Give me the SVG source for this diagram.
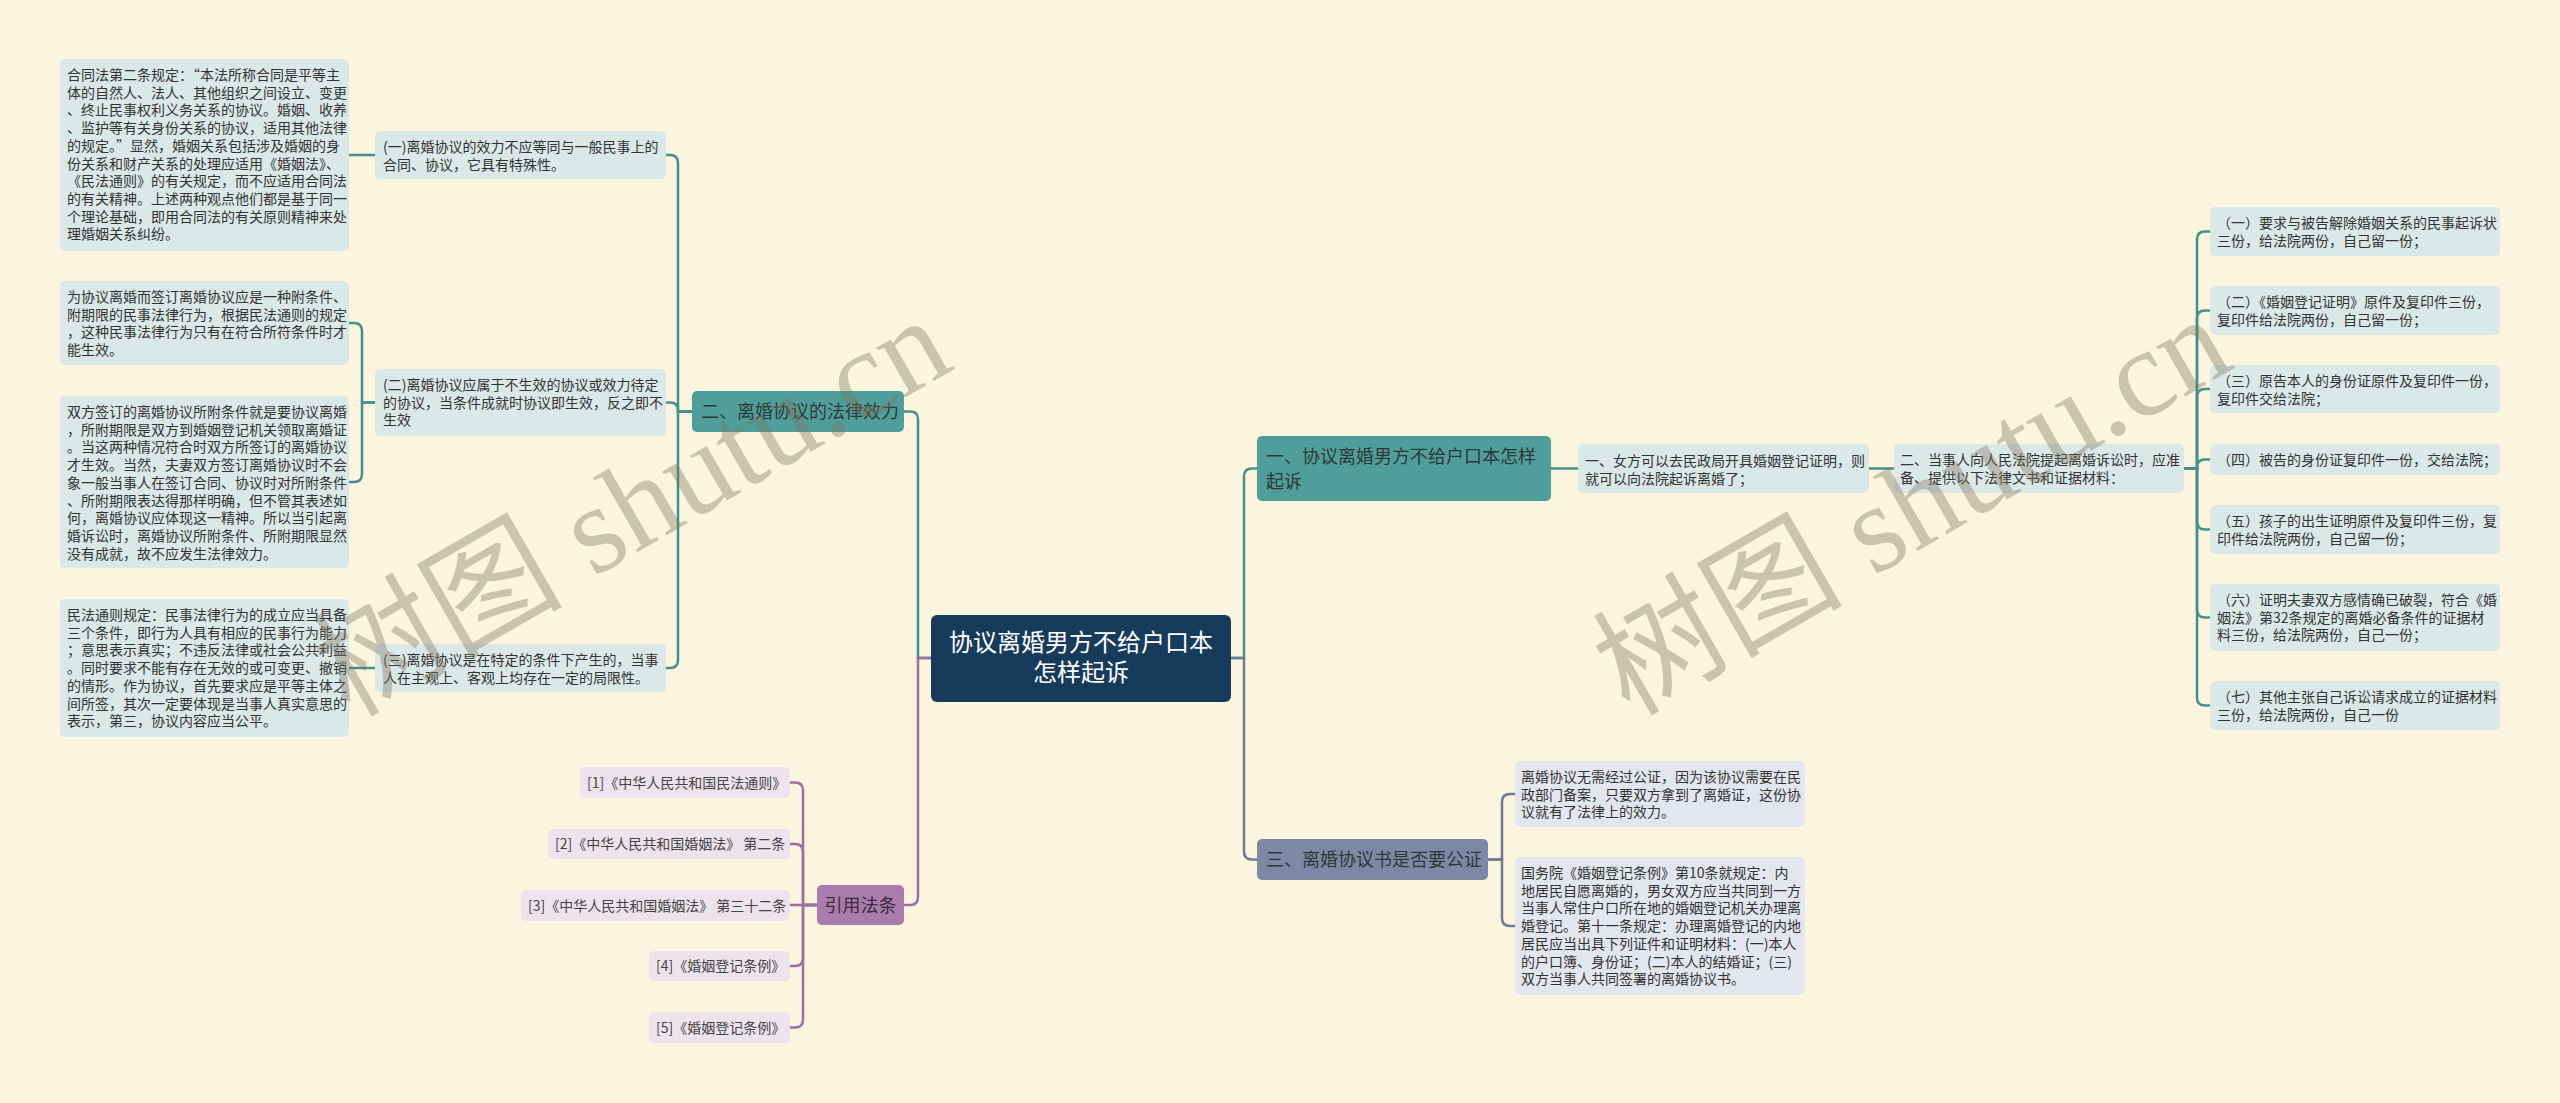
<svg xmlns="http://www.w3.org/2000/svg" width="2560" height="1103" viewBox="0 0 2560 1103">
<style>
  .t { font-family: "Noto Sans CJK SC", "Noto Sans", sans-serif; font-size: 14px; fill: #333; }
  .big { font-family: "Noto Sans CJK SC", "Noto Sans", sans-serif; font-size: 18px; fill: #2f3838; }
  .ctr { font-family: "Noto Sans CJK SC", "Noto Sans", sans-serif; font-size: 24px; fill: #ffffff; }
  .leafT { fill: #dbe8e8; }
  .leafP { fill: #ece3ec; }
  .leafS { fill: #e3e6ee; }
  .nodeT { fill: #509e9b; }
  .nodeP { fill: #a97cad; }
  .nodeS { fill: #7b89a6; }
  .center { fill: #173b5b; }
  .e { fill: none; stroke-width: 2.5; stroke-linecap: round; }
  .eT { stroke: #46908c; }
  .eP { stroke: #9c70a1; }
  .eS { stroke: #6f7b95; }
  .wm { font-family: "Liberation Serif", "Noto Sans CJK SC", serif; font-size: 125px; fill: #7d7560; opacity: 0.38; }
</style>
<rect x="0" y="0" width="2560" height="1103" fill="#fbf5e0"/>

<g id="connectors">
  <!-- center to main branches -->
  <path class="e eT" d="M931,658 H918 V419.5 Q918,411.5 910,411.5 H904"/>
  <path class="e eP" d="M931,658 H918 V897 Q918,905 910,905 H904"/>
  <path class="e eT" d="M1231,658 H1244 V476.5 Q1244,468.5 1252,468.5 H1257"/>
  <path class="e eS" d="M1231,658 H1244 V851.5 Q1244,859.5 1252,859.5 H1257"/>
  <!-- node 二 to children -->
  <path class="e eT" d="M692,411.5 H678 V163 Q678,155 670,155 H666"/>
  <path class="e eT" d="M692,411.5 H678 V410.5 Q678,402.5 670,402.5 H666"/>
  <path class="e eT" d="M692,411.5 H678 V660 Q678,668 670,668 H666"/>
  <!-- (一)(二)(三) to leaf -->
  <path class="e eT" d="M375,155 H349"/>
  <path class="e eT" d="M375,402.5 H362 V331 Q362,323 354,323 H349"/>
  <path class="e eT" d="M375,402.5 H362 V474 Q362,482 354,482 H349"/>
  <path class="e eT" d="M375,668 H349"/>
  <!-- citations -->
  <path class="e eP" d="M817,905 H803 V790.5 Q803,782.5 795,782.5 H790"/>
  <path class="e eP" d="M817,905 H803 V852 Q803,844 795,844 H790"/>
  <path class="e eP" d="M817,905 H790"/>
  <path class="e eP" d="M817,905 H803 V958 Q803,966 795,966 H790"/>
  <path class="e eP" d="M817,905 H803 V1019.5 Q803,1027.5 795,1027.5 H790"/>
  <!-- branch 一 -->
  <path class="e eT" d="M1551,468.5 H1578"/>
  <path class="e eT" d="M1869,468.5 H1894"/>
  <path class="e eT" d="M2184,468.5 H2197 V239.5 Q2197,231.5 2205,231.5 H2210"/>
  <path class="e eT" d="M2184,468.5 H2197 V318.5 Q2197,310.5 2205,310.5 H2210"/>
  <path class="e eT" d="M2184,468.5 H2197 V397 Q2197,389 2205,389 H2210"/>
  <path class="e eT" d="M2184,468.5 H2197 V467.5 Q2197,459.5 2205,459.5 H2210"/>
  <path class="e eT" d="M2184,468.5 H2197 V521.5 Q2197,529.5 2205,529.5 H2210"/>
  <path class="e eT" d="M2184,468.5 H2197 V609.5 Q2197,617.5 2205,617.5 H2210"/>
  <path class="e eT" d="M2184,468.5 H2197 V697.5 Q2197,705.5 2205,705.5 H2210"/>
  <!-- branch 三 -->
  <path class="e eS" d="M1488,859.5 H1502 V802 Q1502,794 1510,794 H1515"/>
  <path class="e eS" d="M1488,859.5 H1502 V918 Q1502,926 1510,926 H1515"/>
</g>

<g id="center">
  <rect class="center" x="931" y="615" width="300" height="87" rx="6"/>
  <text class="ctr" text-anchor="middle"><tspan x="1081" y="651">协议离婚男方不给户口本</tspan><tspan x="1081" y="681">怎样起诉</tspan></text>
</g>

<g id="node-er">
  <rect class="nodeT" x="692" y="391" width="212" height="41" rx="5"/>
  <text class="big" x="701" y="418">二、离婚协议的法律效力</text>
</g>

<g id="m1">
  <rect class="leafT" x="375" y="131" width="291" height="48" rx="5"/>
  <text class="t"><tspan x="383" y="152">(一)离婚协议的效力不应等同与一般民事上的</tspan><tspan x="383" dy="17.7">合同、协议，它具有特殊性。</tspan></text>
</g>
<g id="m2">
  <rect class="leafT" x="375" y="369" width="291" height="67" rx="5"/>
  <text class="t"><tspan x="383" y="390">(二)离婚协议应属于不生效的协议或效力待定</tspan><tspan x="383" dy="17.7">的协议，当条件成就时协议即生效，反之即不</tspan><tspan x="383" dy="17.7">生效</tspan></text>
</g>
<g id="m3">
  <rect class="leafT" x="375" y="644" width="291" height="48" rx="5"/>
  <text class="t"><tspan x="383" y="665">(三)离婚协议是在特定的条件下产生的，当事</tspan><tspan x="383" dy="17.7">人在主观上、客观上均存在一定的局限性。</tspan></text>
</g>

<g id="l1">
  <rect class="leafT" x="60" y="59" width="289" height="192" rx="5"/>
  <text class="t"><tspan x="67" y="80">合同法第二条规定：“本法所称合同是平等主</tspan><tspan x="67" dy="17.7">体的自然人、法人、其他组织之间设立、变更</tspan><tspan x="67" dy="17.7">、终止民事权利义务关系的协议。婚姻、收养</tspan><tspan x="67" dy="17.7">、监护等有关身份关系的协议，适用其他法律</tspan><tspan x="67" dy="17.7">的规定。”显然，婚姻关系包括涉及婚姻的身</tspan><tspan x="67" dy="17.7">份关系和财产关系的处理应适用《婚姻法》、</tspan><tspan x="67" dy="17.7">《民法通则》的有关规定，而不应适用合同法</tspan><tspan x="67" dy="17.7">的有关精神。上述两种观点他们都是基于同一</tspan><tspan x="67" dy="17.7">个理论基础，即用合同法的有关原则精神来处</tspan><tspan x="67" dy="17.7">理婚姻关系纠纷。</tspan></text>
</g>
<g id="l2">
  <rect class="leafT" x="60" y="281" width="289" height="84" rx="5"/>
  <text class="t"><tspan x="67" y="302">为协议离婚而签订离婚协议应是一种附条件、</tspan><tspan x="67" dy="17.7">附期限的民事法律行为，根据民法通则的规定</tspan><tspan x="67" dy="17.7">，这种民事法律行为只有在符合所符条件时才</tspan><tspan x="67" dy="17.7">能生效。</tspan></text>
</g>
<g id="l3">
  <rect class="leafT" x="60" y="396" width="289" height="172" rx="5"/>
  <text class="t"><tspan x="67" y="417">双方签订的离婚协议所附条件就是要协议离婚</tspan><tspan x="67" dy="17.7">，所附期限是双方到婚姻登记机关领取离婚证</tspan><tspan x="67" dy="17.7">。当这两种情况符合时双方所签订的离婚协议</tspan><tspan x="67" dy="17.7">才生效。当然，夫妻双方签订离婚协议时不会</tspan><tspan x="67" dy="17.7">象一般当事人在签订合同、协议时对所附条件</tspan><tspan x="67" dy="17.7">、所附期限表达得那样明确，但不管其表述如</tspan><tspan x="67" dy="17.7">何，离婚协议应体现这一精神。所以当引起离</tspan><tspan x="67" dy="17.7">婚诉讼时，离婚协议所附条件、所附期限显然</tspan><tspan x="67" dy="17.7">没有成就，故不应发生法律效力。</tspan></text>
</g>
<g id="l4">
  <rect class="leafT" x="60" y="599" width="289" height="138" rx="5"/>
  <text class="t"><tspan x="67" y="620">民法通则规定：民事法律行为的成立应当具备</tspan><tspan x="67" dy="17.7">三个条件，即行为人具有相应的民事行为能力</tspan><tspan x="67" dy="17.7">；意思表示真实；不违反法律或社会公共利益</tspan><tspan x="67" dy="17.7">。同时要求不能有存在无效的或可变更、撤销</tspan><tspan x="67" dy="17.7">的情形。作为协议，首先要求应是平等主体之</tspan><tspan x="67" dy="17.7">间所签，其次一定要体现是当事人真实意思的</tspan><tspan x="67" dy="17.7">表示，第三，协议内容应当公平。</tspan></text>
</g>

<g id="cite">
  <rect class="nodeP" x="817" y="885" width="87" height="40" rx="5"/>
  <text class="big" x="860.5" y="911.5" text-anchor="middle" style="fill:#3a2d3c">引用法条</text>
</g>
<g id="c1">
  <rect class="leafP" x="580" y="767" width="210" height="31" rx="5"/>
  <text class="t" x="587" y="787.5" style="fill:#444">[1]《中华人民共和国民法通则》</text>
</g>
<g id="c2">
  <rect class="leafP" x="548" y="829" width="242" height="30" rx="5"/>
  <text class="t" x="555" y="849" style="fill:#444">[2]《中华人民共和国婚姻法》 第二条</text>
</g>
<g id="c3">
  <rect class="leafP" x="521" y="890" width="269" height="31" rx="5"/>
  <text class="t" x="528" y="910.5" style="fill:#444">[3]《中华人民共和国婚姻法》 第三十二条</text>
</g>
<g id="c4">
  <rect class="leafP" x="649" y="951" width="141" height="30" rx="5"/>
  <text class="t" x="656" y="971" style="fill:#444">[4]《婚姻登记条例》</text>
</g>
<g id="c5">
  <rect class="leafP" x="649" y="1012" width="141" height="31" rx="5"/>
  <text class="t" x="656" y="1032.5" style="fill:#444">[5]《婚姻登记条例》</text>
</g>

<g id="n1">
  <rect class="nodeT" x="1257" y="436" width="294" height="65" rx="5"/>
  <text class="big"><tspan x="1266" y="463">一、协议离婚男方不给户口本怎样</tspan><tspan x="1266" dy="25">起诉</tspan></text>
</g>
<g id="r1">
  <rect class="leafT" x="1578" y="444" width="291" height="49" rx="5"/>
  <text class="t"><tspan x="1585" y="466">一、女方可以去民政局开具婚姻登记证明，则</tspan><tspan x="1585" dy="17.7">就可以向法院起诉离婚了；</tspan></text>
</g>
<g id="r2">
  <rect class="leafT" x="1894" y="444" width="290" height="49" rx="5"/>
  <text class="t"><tspan x="1900" y="465">二、当事人向人民法院提起离婚诉讼时，应准</tspan><tspan x="1900" dy="17.7">备、提供以下法律文书和证据材料：</tspan></text>
</g>
<g id="rr1">
  <rect class="leafT" x="2210" y="207" width="290" height="49" rx="5"/>
  <text class="t"><tspan x="2217" y="228">（一）要求与被告解除婚姻关系的民事起诉状</tspan><tspan x="2217" dy="17.7">三份，给法院两份，自己留一份；</tspan></text>
</g>
<g id="rr2">
  <rect class="leafT" x="2210" y="286" width="290" height="49" rx="5"/>
  <text class="t"><tspan x="2217" y="307">（二）《婚姻登记证明》原件及复印件三份，</tspan><tspan x="2217" dy="17.7">复印件给法院两份，自己留一份；</tspan></text>
</g>
<g id="rr3">
  <rect class="leafT" x="2210" y="365" width="290" height="48" rx="5"/>
  <text class="t"><tspan x="2217" y="386">（三）原告本人的身份证原件及复印件一份，</tspan><tspan x="2217" dy="17.7">复印件交给法院；</tspan></text>
</g>
<g id="rr4">
  <rect class="leafT" x="2210" y="444" width="290" height="31" rx="5"/>
  <text class="t" x="2217" y="464.5">（四）被告的身份证复印件一份，交给法院；</text>
</g>
<g id="rr5">
  <rect class="leafT" x="2210" y="505" width="290" height="49" rx="5"/>
  <text class="t"><tspan x="2217" y="526">（五）孩子的出生证明原件及复印件三份，复</tspan><tspan x="2217" dy="17.7">印件给法院两份，自己留一份；</tspan></text>
</g>
<g id="rr6">
  <rect class="leafT" x="2210" y="584" width="290" height="67" rx="5"/>
  <text class="t"><tspan x="2217" y="605">（六）证明夫妻双方感情确已破裂，符合《婚</tspan><tspan x="2217" dy="17.7">姻法》第32条规定的离婚必备条件的证据材</tspan><tspan x="2217" dy="17.7">料三份，给法院两份，自己一份；</tspan></text>
</g>
<g id="rr7">
  <rect class="leafT" x="2210" y="681" width="290" height="49" rx="5"/>
  <text class="t"><tspan x="2217" y="702">（七）其他主张自己诉讼请求成立的证据材料</tspan><tspan x="2217" dy="17.7">三份，给法院两份，自己一份</tspan></text>
</g>

<g id="n3">
  <rect class="nodeS" x="1257" y="839" width="231" height="41" rx="5"/>
  <text class="big" x="1266" y="866">三、离婚协议书是否要公证</text>
</g>
<g id="s1">
  <rect class="leafS" x="1515" y="761" width="290" height="66" rx="5"/>
  <text class="t"><tspan x="1521" y="782">离婚协议无需经过公证，因为该协议需要在民</tspan><tspan x="1521" dy="17.7">政部门备案，只要双方拿到了离婚证，这份协</tspan><tspan x="1521" dy="17.7">议就有了法律上的效力。</tspan></text>
</g>
<g id="s2">
  <rect class="leafS" x="1515" y="857" width="290" height="138" rx="5"/>
  <text class="t"><tspan x="1521" y="878">国务院《婚姻登记条例》第10条就规定：内</tspan><tspan x="1521" dy="17.7">地居民自愿离婚的，男女双方应当共同到一方</tspan><tspan x="1521" dy="17.7">当事人常住户口所在地的婚姻登记机关办理离</tspan><tspan x="1521" dy="17.7">婚登记。第十一条规定：办理离婚登记的内地</tspan><tspan x="1521" dy="17.7">居民应当出具下列证件和证明材料：(一)本人</tspan><tspan x="1521" dy="17.7">的户口簿、身份证；(二)本人的结婚证；(三)</tspan><tspan x="1521" dy="17.7">双方当事人共同签署的离婚协议书。</tspan></text>
</g>

<g id="watermark">
  <text class="wm" text-anchor="middle" transform="translate(653,543) rotate(-30)">树图 shutu.cn</text>
  <text class="wm" text-anchor="middle" transform="translate(1933,542) rotate(-30)">树图 shutu.cn</text>
</g>
</svg>
